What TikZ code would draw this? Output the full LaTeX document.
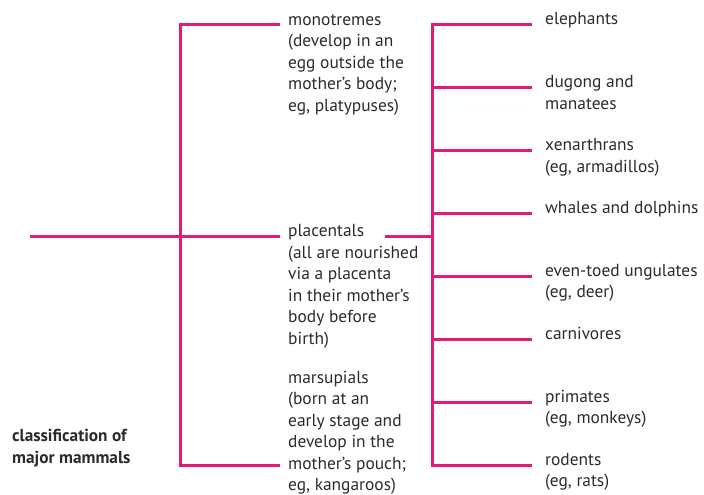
\documentclass[tikz,border=0pt]{standalone}
\usepackage{fontspec}
\setmainfont{PT Sans}
\newfontfamily\labelfont{PT Sans Bold}
\definecolor{linkpink}{RGB}{226,28,118}
\definecolor{txtgray}{RGB}{45,42,44}
\tikzset{
  branch/.style={draw=linkpink, line width=3pt, line cap=butt, line join=miter},
  lbl/.style={anchor=base west, inner sep=0pt, align=left, text=txtgray,
    font=\fontsize{17.4pt}{21.5pt}\selectfont},
  ttl/.style={anchor=base west, inner sep=0pt, align=left, text=txtgray,
    font=\labelfont\fontsize{17.3pt}{22pt}\selectfont}
}
\begin{document}
\begin{tikzpicture}[x=1pt,y=-1pt]
\useasboundingbox (0,0) rectangle (704,495);
% left tree
\coordinate (root) at (30,236.5);
\coordinate (ltop) at (180,25);
\coordinate (lmid) at (180,236.5);
\coordinate (lbot) at (180,465);
% nodes are placed at the baseline of their last line (21.5pt line pitch)
\node[lbl] (mono) at (288,111) {monotremes\\(develop in an\\egg outside the\\mother’s body;\\eg, platypuses)};
\node[lbl] (plac) at (288,344) {placentals\\(all are nourished\\via a placenta\\in their mother’s\\body before\\birth)};
\node[lbl] (mars) at (288,490.5) {marsupials\\(born at an\\early stage and\\develop in the\\mother’s pouch;\\eg, kangaroos)};
\draw[branch] (root) -- (lmid) -- (280,236.5);
\draw[branch] (280,25) -- (ltop) -- (lbot) -- (280,465);
% right tree
\coordinate (rstub) at (385,236.5);
\coordinate (rtop) at (432,25);
\coordinate (rbot) at (432,465);
\draw[branch] (rstub) -- (432,236.5);
\draw[branch] (532,25) -- (rtop) -- (rbot) -- (532,465);
\foreach \i in {1,...,6}{
  \pgfmathsetmacro{\yy}{25+\i*62.857}
  \draw[branch] (432,\yy) -- (532,\yy);
}
\node[lbl] (c0) at (545,25) {elephants};
\node[lbl] (c1) at (545,109.36) {dugong and\\manatees};
\node[lbl] (c2) at (545,172.21) {xenarthrans\\(eg, armadillos)};
\node[lbl] (c3) at (545,213.57) {whales and dolphins};
\node[lbl] (c4) at (545,297.93) {even-toed ungulates\\(eg, deer)};
\node[lbl] (c5) at (545,339.29) {carnivores};
\node[lbl] (c6) at (545,423.64) {primates\\(eg, monkeys)};
\node[lbl] (c7) at (545,486.5) {rodents\\(eg, rats)};
\node[ttl] (title) at (12,463) {classification of\\major mammals};
\end{tikzpicture}
\end{document}
